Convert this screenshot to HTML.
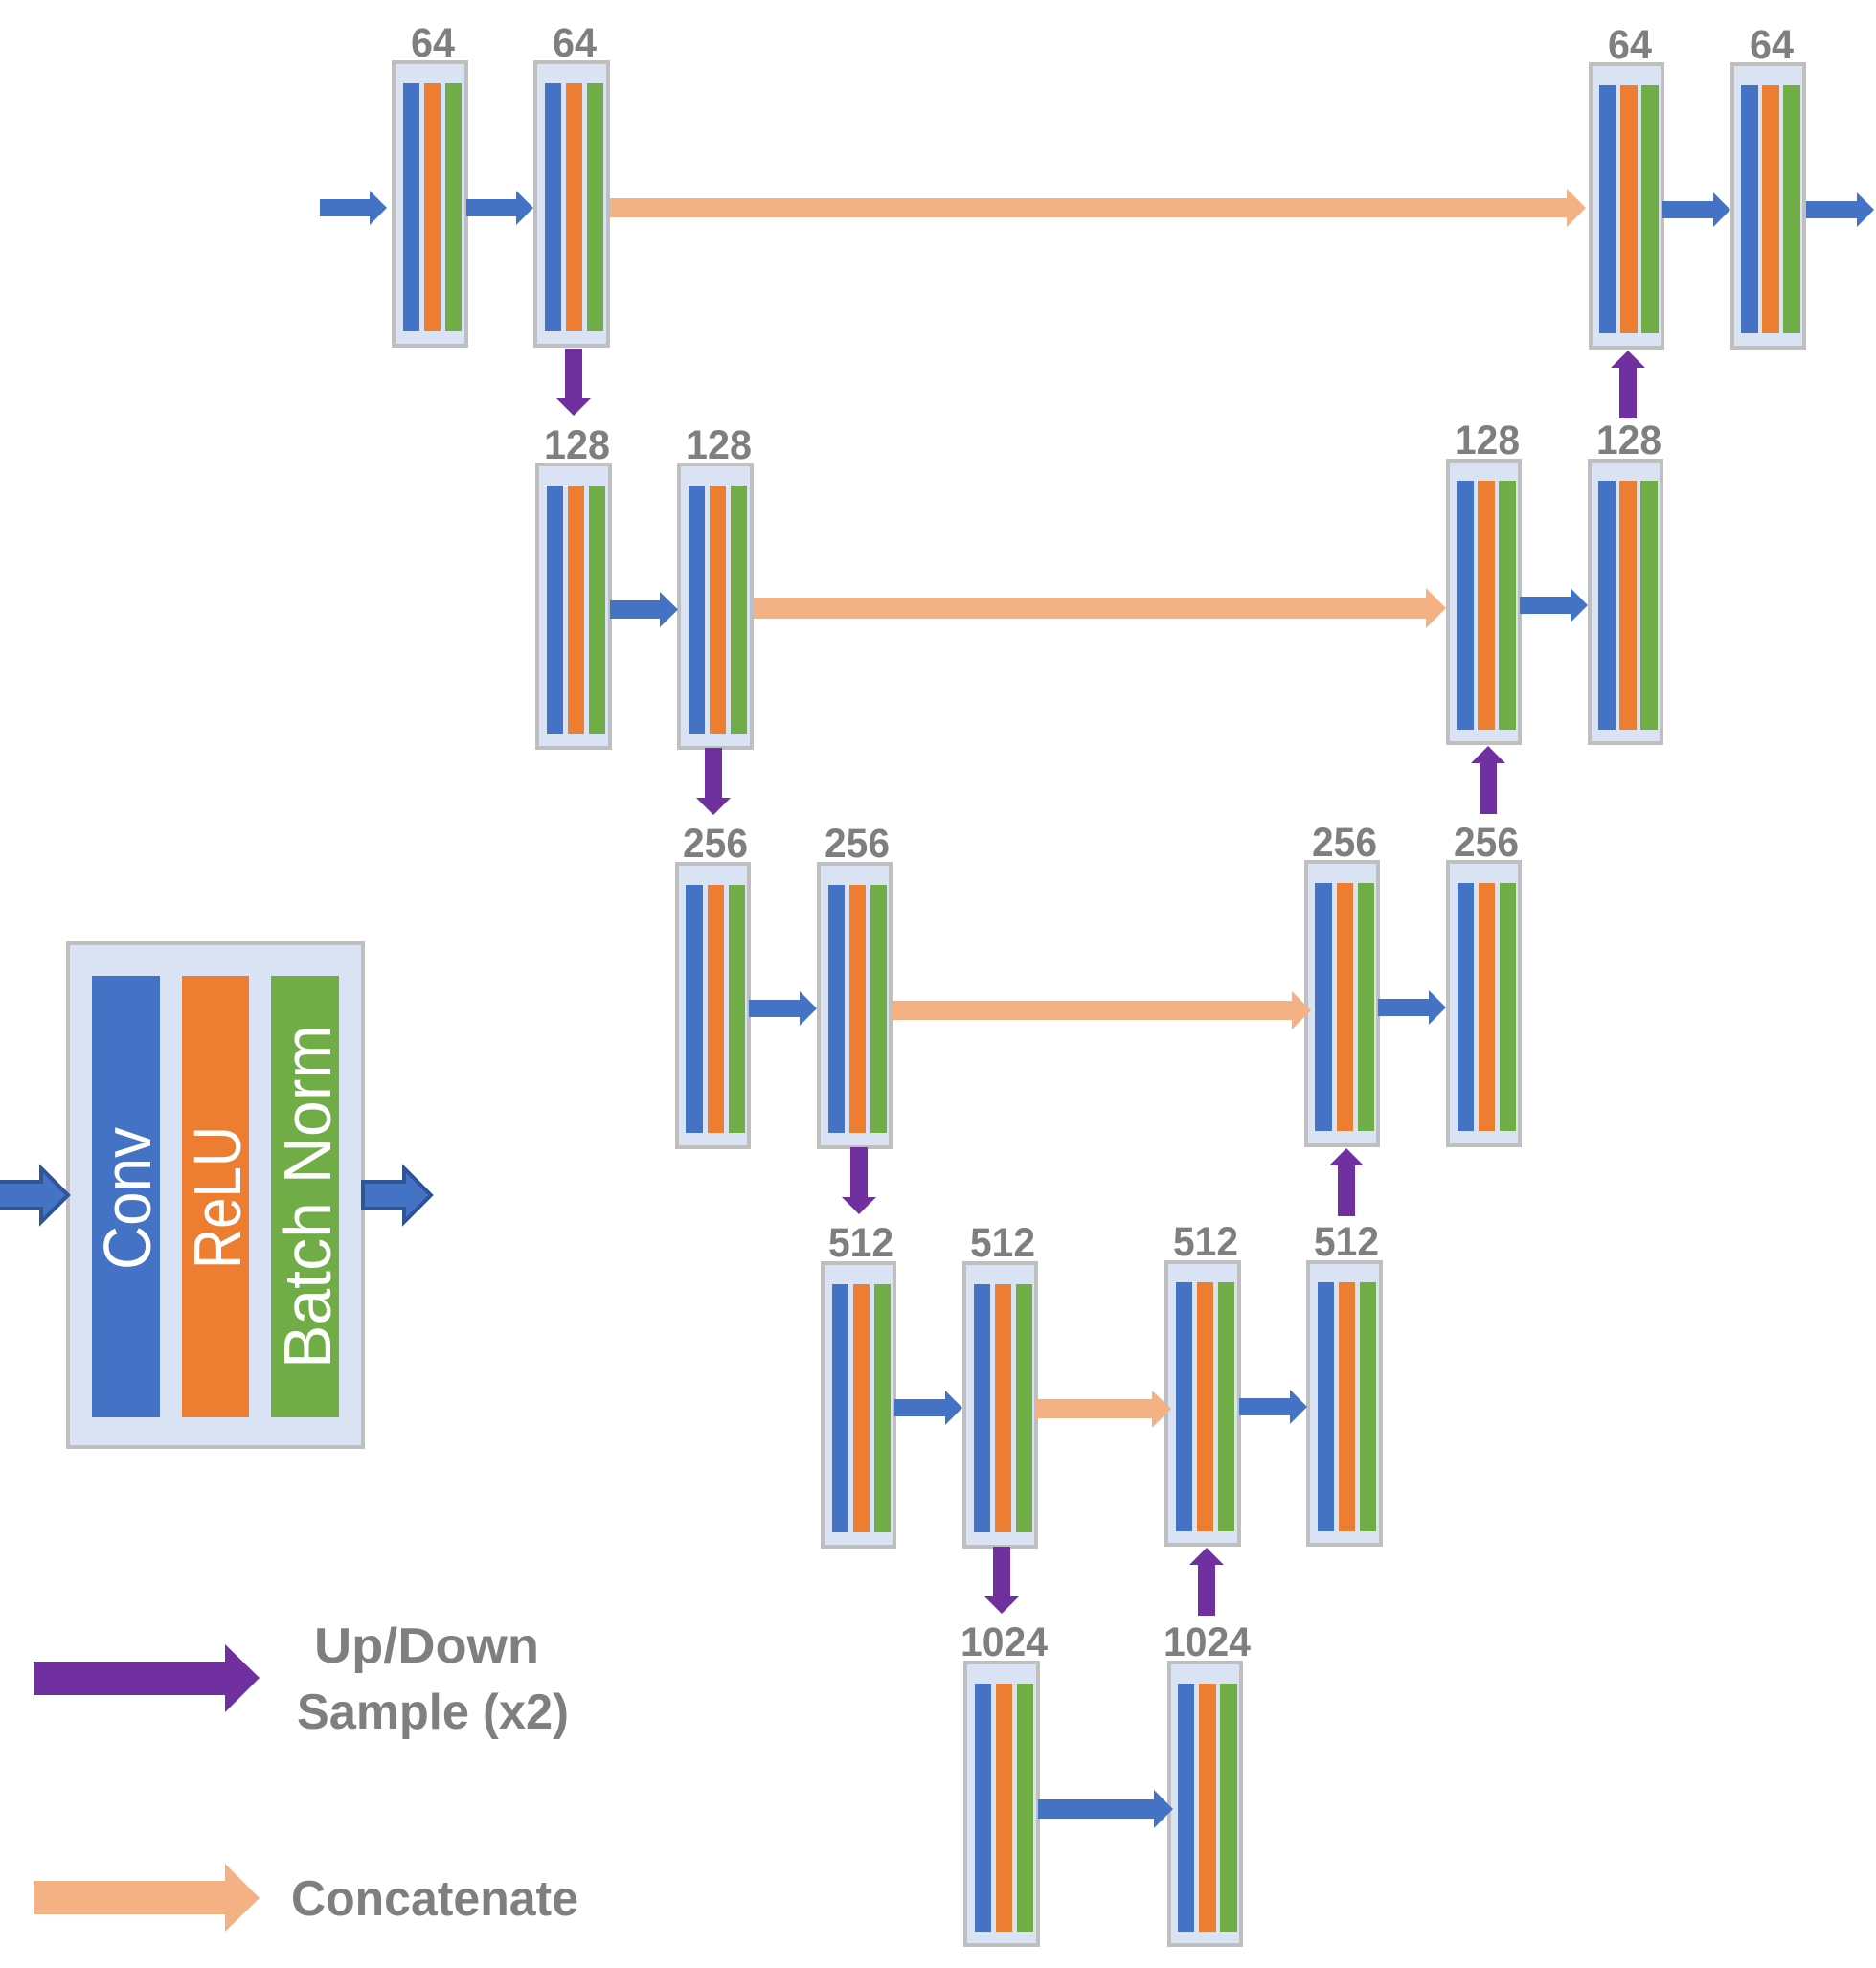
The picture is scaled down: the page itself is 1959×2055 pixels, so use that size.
<!DOCTYPE html>
<html><head><meta charset="utf-8"><style>
html,body{margin:0;padding:0;background:#fff}
svg{display:block}
.s{fill:#dae3f3;stroke:#bfbfbf;stroke-width:4}
.b{fill:#4472c4}.o{fill:#ed7d31}.g{fill:#70ad47}.p{fill:#7030a0}.f{fill:#f4b183}
.t{font-family:"Liberation Sans",sans-serif;font-weight:bold;fill:#7f7f7f;font-size:43px}
.l{font-family:"Liberation Sans",sans-serif;font-weight:bold;fill:#7f7f7f;font-size:52px}
.w{font-family:"Liberation Sans",sans-serif;fill:#fff;font-size:70px}
</style></head><body>
<svg xmlns="http://www.w3.org/2000/svg" width="1959" height="2055" viewBox="0 0 1959 2055">
<rect width="1959" height="2055" fill="#fff"/>
<!-- row 1 left -->
<rect class="s" x="411" y="65" width="76" height="296"/><rect class="b" x="421" y="87" width="17" height="259"/><rect class="o" x="443" y="87" width="17" height="259"/><rect class="g" x="465" y="87" width="17" height="259"/>
<rect class="s" x="559" y="65" width="76" height="296"/><rect class="b" x="569" y="87" width="17" height="259"/><rect class="o" x="591" y="87" width="17" height="259"/><rect class="g" x="613" y="87" width="17" height="259"/>
<!-- row 1 right -->
<rect class="s" x="1661" y="67" width="75" height="296"/><rect class="b" x="1670" y="89" width="18" height="259"/><rect class="o" x="1692" y="89" width="18" height="259"/><rect class="g" x="1714" y="89" width="18" height="259"/>
<rect class="s" x="1809" y="67" width="75" height="296"/><rect class="b" x="1818" y="89" width="18" height="259"/><rect class="o" x="1840" y="89" width="18" height="259"/><rect class="g" x="1862" y="89" width="18" height="259"/>
<!-- row 2 left -->
<rect class="s" x="561" y="485" width="76" height="296"/><rect class="b" x="571" y="507" width="17" height="259"/><rect class="o" x="593" y="507" width="17" height="259"/><rect class="g" x="615" y="507" width="17" height="259"/>
<rect class="s" x="709" y="485" width="76" height="296"/><rect class="b" x="719" y="507" width="17" height="259"/><rect class="o" x="741" y="507" width="17" height="259"/><rect class="g" x="763" y="507" width="17" height="259"/>
<!-- row 2 right -->
<rect class="s" x="1512" y="481" width="75" height="295"/><rect class="b" x="1521" y="502" width="18" height="260"/><rect class="o" x="1543" y="502" width="18" height="260"/><rect class="g" x="1565" y="502" width="18" height="260"/>
<rect class="s" x="1660" y="481" width="75" height="295"/><rect class="b" x="1669" y="502" width="18" height="260"/><rect class="o" x="1691" y="502" width="18" height="260"/><rect class="g" x="1713" y="502" width="18" height="260"/>
<!-- row 3 left -->
<rect class="s" x="707" y="902" width="75" height="296"/><rect class="b" x="716" y="924" width="18" height="259"/><rect class="o" x="739" y="924" width="17" height="259"/><rect class="g" x="761" y="924" width="17" height="259"/>
<rect class="s" x="855" y="902" width="75" height="296"/><rect class="b" x="865" y="924" width="17" height="259"/><rect class="o" x="887" y="924" width="17" height="259"/><rect class="g" x="909" y="924" width="17" height="259"/>
<!-- row 3 right -->
<rect class="s" x="1364" y="900" width="75" height="296"/><rect class="b" x="1373" y="922" width="18" height="259"/><rect class="o" x="1396" y="922" width="17" height="259"/><rect class="g" x="1418" y="922" width="17" height="259"/>
<rect class="s" x="1512" y="900" width="75" height="296"/><rect class="b" x="1522" y="922" width="17" height="259"/><rect class="o" x="1544" y="922" width="17" height="259"/><rect class="g" x="1566" y="922" width="17" height="259"/>
<!-- row 4 left -->
<rect class="s" x="859" y="1319" width="75" height="296"/><rect class="b" x="869" y="1341" width="17" height="259"/><rect class="o" x="891" y="1341" width="17" height="259"/><rect class="g" x="913" y="1341" width="17" height="259"/>
<rect class="s" x="1007" y="1319" width="75" height="296"/><rect class="b" x="1017" y="1341" width="17" height="259"/><rect class="o" x="1039" y="1341" width="17" height="259"/><rect class="g" x="1061" y="1341" width="17" height="259"/>
<!-- row 4 right -->
<rect class="s" x="1218" y="1318" width="76" height="295"/><rect class="b" x="1228" y="1339" width="17" height="260"/><rect class="o" x="1250" y="1339" width="17" height="260"/><rect class="g" x="1272" y="1339" width="17" height="260"/>
<rect class="s" x="1366" y="1318" width="76" height="295"/><rect class="b" x="1376" y="1339" width="17" height="260"/><rect class="o" x="1398" y="1339" width="17" height="260"/><rect class="g" x="1420" y="1339" width="17" height="260"/>
<!-- row 5 -->
<rect class="s" x="1008" y="1736" width="76" height="295"/><rect class="b" x="1018" y="1758" width="17" height="259"/><rect class="o" x="1040" y="1758" width="17" height="259"/><rect class="g" x="1062" y="1758" width="17" height="259"/>
<rect class="s" x="1221" y="1736" width="75" height="295"/><rect class="b" x="1230" y="1758" width="17" height="259"/><rect class="o" x="1252" y="1758" width="18" height="259"/><rect class="g" x="1274" y="1758" width="18" height="259"/>
<!-- large block -->
<rect class="s" x="71" y="985" width="308" height="526"/>
<rect class="b" x="96" y="1019" width="71" height="461"/><rect class="o" x="190" y="1019" width="70" height="461"/><rect class="g" x="283" y="1019" width="71" height="461"/>
<text class="w" transform="translate(157,1326) rotate(-90)" textLength="149" lengthAdjust="spacingAndGlyphs">Conv</text>
<text class="w" transform="translate(251,1325) rotate(-90)" textLength="149" lengthAdjust="spacingAndGlyphs">ReLU</text>
<text class="w" transform="translate(345,1429) rotate(-90)" textLength="359" lengthAdjust="spacingAndGlyphs">Batch Norm</text>
<polygon points="-4,1234 43,1234 43,1220 71,1248 43,1276 43,1262 -4,1262" fill="#4472c4" stroke="#2f5597" stroke-width="4"/>
<polygon points="379,1234 422,1234 422,1220 450,1248 422,1276 422,1262 379,1262" fill="#4472c4" stroke="#2f5597" stroke-width="4"/>
<!-- blue arrows -->
<polygon class="b" points="334,208 386,208 386,199 404,217 386,235 386,226 334,226"/>
<polygon class="b" points="487,208 539,208 539,199 557,217 539,235 539,226 487,226"/>
<polygon class="b" points="1736,210 1789,210 1789,201 1807,219 1789,237 1789,228 1736,228"/>
<polygon class="b" points="1886,210 1939,210 1939,201 1957,219 1939,237 1939,228 1886,228"/>
<polygon class="b" points="637,627 689,627 689,618 708,636.500 689,655 689,646 637,646"/>
<polygon class="b" points="1587,623 1640,623 1640,614 1658,632 1640,650 1640,641 1587,641"/>
<polygon class="b" points="782,1044 835,1044 835,1035 853,1053 835,1071 835,1062 782,1062"/>
<polygon class="b" points="1439,1043 1492,1043 1492,1034 1510,1052 1492,1070 1492,1061 1439,1061"/>
<polygon class="b" points="934,1461 987,1461 987,1452 1005,1470 987,1488 987,1479 934,1479"/>
<polygon class="b" points="1294,1460 1347,1460 1347,1451 1365,1469 1347,1487 1347,1478 1294,1478"/>
<polygon class="b" points="1084,1879 1205,1879 1205,1869 1225,1889 1205,1909 1205,1899 1084,1899"/>
<!-- peach arrows -->
<polygon class="f" points="637,207 1636,207 1636,197 1656,217 1636,237 1636,227 637,227"/>
<polygon class="f" points="787,624 1489,624 1489,614 1510,635 1489,656 1489,646 787,646"/>
<polygon class="f" points="932,1045 1349,1045 1349,1035 1369,1055 1349,1075 1349,1065 932,1065"/>
<polygon class="f" points="1081,1461 1203,1461 1203,1452 1223,1471 1203,1491 1203,1481 1081,1481"/>
<!-- purple arrows -->
<polygon class="p" points="590,364 608,364 608,416 617,416 599,434 581,416 590,416"/>
<polygon class="p" points="736,781 754,781 754,833 763,833 745,851 727,833 736,833"/>
<polygon class="p" points="888,1198 906,1198 906,1250 915,1250 897,1268 879,1250 888,1250"/>
<polygon class="p" points="1037,1615 1055,1615 1055,1667 1064,1667 1046,1685 1028,1667 1037,1667"/>
<polygon class="p" points="1691,437 1709,437 1709,384 1718,384 1700,366 1682,384 1691,384"/>
<polygon class="p" points="1545,850 1563,850 1563,797 1572,797 1554,779 1536,797 1545,797"/>
<polygon class="p" points="1397,1270 1415,1270 1415,1217 1424,1217 1406,1199 1388,1217 1397,1217"/>
<polygon class="p" points="1251,1687 1269,1687 1269,1634 1278,1634 1260,1616 1242,1634 1251,1634"/>
<!-- labels -->
<text class="t" x="429" y="59" textLength="46" lengthAdjust="spacingAndGlyphs">64</text>
<text class="t" x="577" y="59" textLength="46" lengthAdjust="spacingAndGlyphs">64</text>
<text class="t" x="1679" y="61" textLength="46" lengthAdjust="spacingAndGlyphs">64</text>
<text class="t" x="1827" y="61" textLength="46" lengthAdjust="spacingAndGlyphs">64</text>
<text class="t" x="568" y="479" textLength="69" lengthAdjust="spacingAndGlyphs">128</text>
<text class="t" x="716" y="479" textLength="69" lengthAdjust="spacingAndGlyphs">128</text>
<text class="t" x="1519" y="474" textLength="68" lengthAdjust="spacingAndGlyphs">128</text>
<text class="t" x="1667" y="474" textLength="68" lengthAdjust="spacingAndGlyphs">128</text>
<text class="t" x="713" y="895" textLength="68" lengthAdjust="spacingAndGlyphs">256</text>
<text class="t" x="861" y="895" textLength="68" lengthAdjust="spacingAndGlyphs">256</text>
<text class="t" x="1370" y="894" textLength="68" lengthAdjust="spacingAndGlyphs">256</text>
<text class="t" x="1518" y="894" textLength="68" lengthAdjust="spacingAndGlyphs">256</text>
<text class="t" x="865" y="1312" textLength="68" lengthAdjust="spacingAndGlyphs">512</text>
<text class="t" x="1013" y="1312" textLength="68" lengthAdjust="spacingAndGlyphs">512</text>
<text class="t" x="1225" y="1311" textLength="68" lengthAdjust="spacingAndGlyphs">512</text>
<text class="t" x="1372" y="1311" textLength="68" lengthAdjust="spacingAndGlyphs">512</text>
<text class="t" x="1003" y="1729" textLength="91" lengthAdjust="spacingAndGlyphs">1024</text>
<text class="t" x="1215" y="1729" textLength="91" lengthAdjust="spacingAndGlyphs">1024</text>
<!-- legend -->
<polygon class="p" points="35,1735 235,1735 235,1717 271,1752 235,1788 235,1770 35,1770"/>
<polygon class="f" points="35,1964 235,1964 235,1946 271,1982 235,2017 235,1999 35,1999"/>
<text class="l" x="328" y="1736" textLength="235" lengthAdjust="spacingAndGlyphs">Up/Down</text>
<text class="l" x="310" y="1805" textLength="284" lengthAdjust="spacingAndGlyphs">Sample (x2)</text>
<text class="l" x="304" y="2000" textLength="300" lengthAdjust="spacingAndGlyphs">Concatenate</text>
</svg>
</body></html>
